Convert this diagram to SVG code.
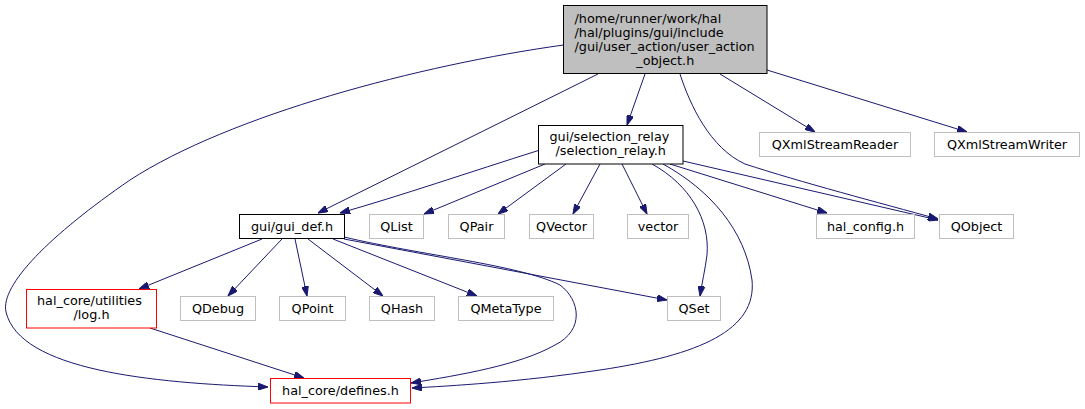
<svg xmlns="http://www.w3.org/2000/svg" width="1085" height="409" viewBox="0 0 1085 409">
<style>
text{font-family:"DejaVu Sans","Liberation Sans",sans-serif;font-size:12.8px;fill:#000}
.c{text-anchor:middle}
rect{stroke-width:1}
.main{fill:#bfbfbf;stroke:#000}
.blk{fill:#fff;stroke:#000}
.red{fill:#fff;stroke:#ff0000}
.gry{fill:#fff;stroke:#bfbfbf}
#edges path{fill:none;stroke:#191970;stroke-width:1;marker-end:url(#ah)}
</style>
<defs>
<marker id="ah" viewBox="0 0 10 7" refX="10" refY="3.5" markerWidth="10" markerHeight="7" markerUnits="userSpaceOnUse" orient="auto">
<path d="M0,0 L10,3.5 L0,7 z" fill="#191970" stroke="#191970"/>
</marker>
</defs>
<rect width="1085" height="409" fill="#fff"/>
<g id="edges">
<path d="M563.5,45 C420,65 230,115 130,180 C50,235 0,285 6,312 C20,370 150,383 268,387"/>
<path d="M598,74 L318,213"/>
<path d="M645,74 L627,125"/>
<path d="M680,74 C690,105 710,148 745,164 C800,182 880,203 938,219"/>
<path d="M720,74 L815,132"/>
<path d="M767,70 L967,132"/>
<path d="M540,150 C470,172 400,196 340,213"/>
<path d="M545,164 L424,214"/>
<path d="M566,164 L498,214"/>
<path d="M600,164 L573,214"/>
<path d="M622,164 L647,214"/>
<path d="M652,164 C690,185 710,220 707,255 C705,270 702,283 700,296"/>
<path d="M663,164 C710,190 745,230 752,280 C757,330 700,355 600,370 C520,382 450,386 412,388"/>
<path d="M670,164 L827,213"/>
<path d="M683,161 L938,220"/>
<path d="M262,239 L139,289"/>
<path d="M282,239 L228,296"/>
<path d="M295,239 L307,296"/>
<path d="M308,239 L383,296"/>
<path d="M333,239 L477,296"/>
<path d="M344,239 L667,300"/>
<path d="M344,237 C420,255 520,265 560,285 C580,300 585,330 555,345 C520,365 460,375 411,383"/>
<path d="M150,328 L304,378"/>
</g>
<g id="n_user_action_object">
<rect class="main" x="563.5" y="5.5" width="203.5" height="68"/>
<text x="574.5" y="23.3">/home/runner/work/hal</text>
<text x="574.5" y="37.2">/hal/plugins/gui/include</text>
<text x="574.5" y="51.1">/gui/user_action/user_action</text>
<text class="c" x="665.25" y="65">_object.h</text>
</g>
<g id="n_selection_relay">
<rect class="blk" x="538.5" y="125.5" width="144.5" height="38.5"/>
<text x="549.5" y="140.5">gui/selection_relay</text>
<text class="c" x="610.75" y="154.5">/selection_relay.h</text>
</g>
<g id="n_gui_def">
<rect class="blk" x="239.5" y="214.5" width="105" height="24"/>
<text class="c" x="292" y="231.3">gui/gui_def.h</text>
</g>
<g id="n_qlist"><rect class="gry" x="369.5" y="214.5" width="54" height="24"/><text class="c" x="396.5" y="231.3">QList</text></g>
<g id="n_qpair"><rect class="gry" x="448.5" y="214.5" width="56" height="24"/><text class="c" x="476.5" y="231.3">QPair</text></g>
<g id="n_qvector"><rect class="gry" x="529.5" y="214.5" width="64" height="24"/><text class="c" x="561.5" y="231.3">QVector</text></g>
<g id="n_vector"><rect class="gry" x="627.5" y="214.5" width="61" height="24"/><text class="c" x="658" y="231.3">vector</text></g>
<g id="n_hal_config"><rect class="gry" x="816.5" y="214.5" width="98" height="24"/><text class="c" x="865.5" y="231.3">hal_config.h</text></g>
<g id="n_qobject"><rect class="gry" x="939.5" y="214.5" width="74" height="24"/><text class="c" x="976.5" y="231.3">QObject</text></g>
<g id="n_qxmlreader"><rect class="gry" x="759.5" y="132.5" width="151" height="24"/><text class="c" x="835" y="149.3">QXmlStreamReader</text></g>
<g id="n_qxmlwriter"><rect class="gry" x="934.5" y="132.5" width="145" height="24"/><text class="c" x="1007" y="149.3">QXmlStreamWriter</text></g>
<g id="n_log">
<rect class="red" x="26.5" y="289.5" width="130" height="38.5"/>
<text x="37" y="305.3">hal_core/utilities</text>
<text class="c" x="91.5" y="318.8">/log.h</text>
</g>
<g id="n_qdebug"><rect class="gry" x="180.5" y="296.5" width="75" height="24"/><text class="c" x="218" y="313.3">QDebug</text></g>
<g id="n_qpoint"><rect class="gry" x="279.5" y="296.5" width="66" height="24"/><text class="c" x="312.5" y="313.3">QPoint</text></g>
<g id="n_qhash"><rect class="gry" x="369.5" y="296.5" width="65" height="24"/><text class="c" x="402" y="313.3">QHash</text></g>
<g id="n_qmetatype"><rect class="gry" x="458.5" y="296.5" width="95" height="24"/><text class="c" x="506" y="313.3">QMetaType</text></g>
<g id="n_qset"><rect class="gry" x="667.5" y="296.5" width="53" height="24"/><text class="c" x="694" y="313.3">QSet</text></g>
<g id="n_defines"><rect class="red" x="270.5" y="378.5" width="140" height="24.5"/><text class="c" x="340.5" y="395.3">hal_core/defines.h</text></g>
</svg>
